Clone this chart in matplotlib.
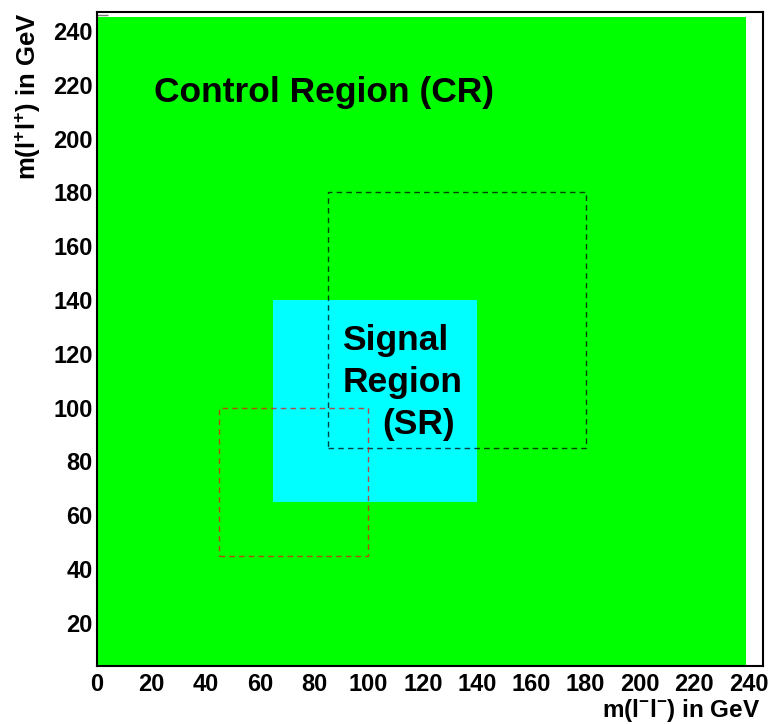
import matplotlib
matplotlib.use("Agg")
import matplotlib.pyplot as plt
from matplotlib.patches import Rectangle

plt.rcParams["font.family"] = ["Liberation Sans", "DejaVu Sans"]
plt.rcParams["font.weight"] = "bold"
plt.rcParams["mathtext.fontset"] = "custom"
plt.rcParams["mathtext.bf"] = "Liberation Sans:bold"
plt.rcParams["mathtext.rm"] = "Liberation Sans:bold"
plt.rcParams["mathtext.default"] = "bf"

# region boundaries in GeV: (low, high) on each axis
cr_x = (0, 239)
cr_y = (4, 245)
sr_x = (65, 140)
sr_y = (65, 140)
side_x = (85, 180)
side_y = (85, 180)
low_x = (45, 100)
low_y = (45, 100)

tick_vals = [0, 20, 40, 60, 80, 100, 120, 140, 160, 180, 200, 220, 240]
ytick_vals = tick_vals[1:]

fig = plt.figure(figsize=(7.76, 7.24), dpi=100)
ax = fig.add_axes([0.125, 0.0801, 0.8582, 0.9033])
ax.set_xlim(0, 245.3)
ax.set_ylim(4, 247)


def box(xr, yr, **kw):
    return Rectangle((xr[0], yr[0]), xr[1] - xr[0], yr[1] - yr[0], **kw)


ax.add_patch(box(cr_x, cr_y, facecolor="#00ff00", edgecolor="none", zorder=1))
ax.add_patch(box(sr_x, sr_y, facecolor="#00ffff", edgecolor="none", zorder=2))
ax.add_patch(box(side_x, side_y, facecolor="none", edgecolor="black", lw=1.0,
                 linestyle=(0, (4, 3)), alpha=0.75, zorder=3))
ax.add_patch(box(low_x, low_y, facecolor="none", edgecolor="red", lw=1.0,
                 linestyle=(0, (4, 3)), alpha=0.7, zorder=3))

big = dict(fontsize=25.5, fontweight="bold", ha="left", va="center", zorder=4)
ax.text(21, 217, "Control Region (CR)", **big)
ax.text(90.4, 124.8, "Signal", **big)
ax.text(90.4, 109.2, "Region", **big)
ax.text(105.2, 93.6, "(SR)", **big)

ax.set_xticks(tick_vals)
ax.set_yticks(ytick_vals)
ax.tick_params(axis="both", which="major", length=0, labelsize=17)
ax.tick_params(axis="x", pad=5)
ax.tick_params(axis="y", pad=3)
for lab in ax.get_xticklabels() + ax.get_yticklabels():
    lab.set_fontweight("bold")

ax.set_xticks([240], minor=True)
ax.set_yticks([245.8], minor=True)
ax.tick_params(axis="x", which="minor", direction="in", length=14, width=1.0, color="#333333")
ax.tick_params(axis="y", which="minor", direction="in", length=8, width=1.0, color="#777777")
ax.tick_params(which="minor", labelbottom=False, labelleft=False)

for s in ax.spines.values():
    s.set_linewidth(1.5)
    s.set_zorder(5)

fig.text(760 / 776, 1 - 711 / 724, r"m(l$^{-}$l$^{-}$) in GeV", fontsize=17.5,
         fontweight="bold", ha="right", va="center")
fig.text(28 / 776, 1 - 12 / 724, r"m(l$^{+}$l$^{+}$) in GeV", fontsize=18.5,
         fontweight="bold", ha="center", va="top", rotation=90)

fig.savefig("out.png", dpi=100)
